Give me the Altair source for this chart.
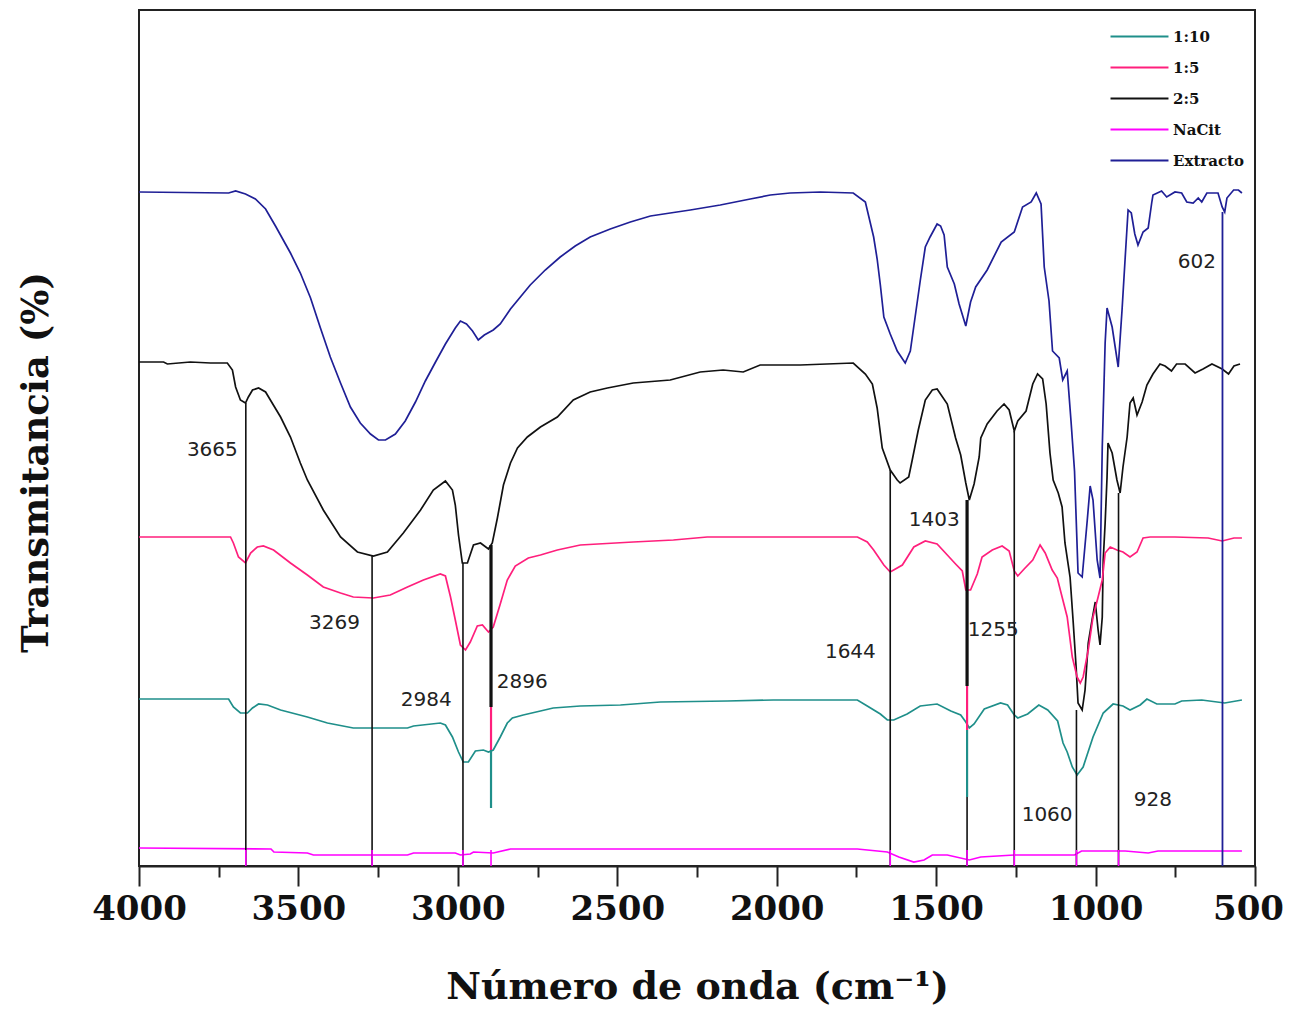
import altair as alt
import pandas as pd

# ---------------- data ----------------
series_names = ["1:10", "1:5", "2:5", "NaCit", "Extracto"]
series_colors = ["#1f8f8a", "#ff1f7c", "#111111", "#ff00ff", "#1f1f96"]

ext_wn = [4000, 3719, 3697, 3666, 3635, 3603, 3572, 3525, 3494, 3462, 3431, 3400, 3368, 3337, 3306, 3274,
          3249, 3227, 3196, 3165, 3133, 3102, 3070, 3039, 3008, 2992, 2973, 2954, 2936, 2917, 2889, 2867,
          2835, 2804, 2773, 2726, 2679, 2632, 2585, 2522, 2459, 2396, 2334, 2271, 2177, 2083, 2020, 1958,
          1863, 1760, 1722, 1696, 1685, 1675, 1664, 1644, 1622, 1597, 1581, 1569, 1550, 1534, 1519, 1497,
          1486, 1475, 1465, 1443, 1428, 1407, 1392, 1376, 1340, 1296, 1255, 1229, 1202, 1186, 1171, 1161,
          1146, 1135, 1114, 1103, 1089, 1077, 1066, 1055, 1042, 1026, 1017, 1008, 995, 986, 979, 970,
          964, 948, 929, 917, 907, 898, 888, 877, 867, 851, 835, 824, 820, 793, 777, 751,
          730, 714, 694, 678, 667, 651, 616, 603, 595, 588, 567, 552, 541]
ext_t = [674, 673, 675, 672, 667, 657, 640, 613, 593, 568, 538, 509, 483, 459, 443, 432,
         426, 426, 432, 445, 464, 485, 504, 522, 538, 545, 542, 535, 526, 531, 536, 542,
         557, 569, 581, 596, 609, 620, 629, 637, 644, 650, 653, 656, 661, 667, 671, 673,
         674, 673, 664, 629, 607, 581, 549, 532, 515, 503, 515, 542, 585, 619, 629, 642,
         640, 631, 599, 582, 562, 540, 564, 579, 596, 624, 634, 659, 664, 673, 662, 599,
         565, 515, 508, 486, 495, 445, 395, 293, 289, 346, 380, 366, 306, 288, 419, 523,
         558, 539, 499, 556, 609, 656, 653, 632, 621, 634, 638, 663, 671, 675, 669, 674,
         673, 664, 663, 668, 664, 673, 673, 659, 654, 668, 676, 676, 673]

blk_wn = [4000, 3923, 3911, 3839, 3776, 3723, 3707, 3697, 3682, 3666, 3657, 3644, 3625, 3603, 3588, 3556,
          3525, 3494, 3472, 3422, 3368, 3315, 3265, 3221, 3171, 3117, 3077, 3039, 3017, 3008, 2998, 2986,
          2970, 2951, 2929, 2904, 2892, 2876, 2857, 2835, 2813, 2782, 2741, 2688, 2638, 2585, 2531, 2450,
          2334, 2240, 2168, 2105, 2052, 1926, 1760, 1722, 1700, 1685, 1669, 1644, 1622, 1613, 1586, 1575,
          1556, 1534, 1512, 1497, 1465, 1439, 1423, 1407, 1396, 1381, 1365, 1360, 1340, 1309, 1287, 1271,
          1255, 1244, 1218, 1197, 1182, 1166, 1155, 1143, 1133, 1117, 1105, 1096, 1080, 1070, 1061, 1055,
          1042, 1033, 1023, 1011, 1001, 992, 986, 979, 976, 970, 964, 961, 948, 933, 923, 914,
          901, 892, 882, 870, 854, 839, 820, 798, 782, 762, 746, 719, 688, 663, 635, 603,
          583, 566, 547]
blk_t = [504, 504, 502, 504, 503, 503, 496, 479, 466, 463, 469, 476, 478, 474, 466, 449,
         429, 403, 386, 356, 329, 314, 310, 314, 333, 356, 376, 385, 376, 361, 331, 303,
         303, 321, 323, 317, 323, 348, 381, 403, 418, 429, 439, 449, 466, 474, 478, 483,
         486, 494, 496, 494, 501, 501, 503, 492, 482, 458, 418, 396, 386, 383, 389, 406,
         436, 466, 476, 477, 462, 428, 411, 383, 366, 382, 409, 428, 442, 455, 462, 456,
         435, 445, 455, 482, 492, 487, 462, 413, 386, 373, 359, 323, 289, 243, 199, 163,
         156, 176, 223, 246, 264, 236, 221, 249, 306, 343, 389, 423, 413, 386, 373, 399,
         429, 463, 468, 451, 464, 481, 492, 502, 500, 495, 502, 502, 493, 497, 502, 497,
         492, 500, 502]

pnk_wn = [4000, 3713, 3704, 3688, 3666, 3650, 3629, 3610, 3578, 3525, 3472, 3422, 3368, 3328, 3265, 3212,
          3158, 3108, 3055, 3039, 3023, 3008, 2992, 2976, 2961, 2939, 2923, 2904, 2889, 2867, 2845, 2820,
          2779, 2741, 2688, 2616, 2450, 2324, 2218, 2011, 1747, 1716, 1696, 1664, 1644, 1606, 1570, 1534,
          1497, 1465, 1439, 1418, 1407, 1392, 1371, 1356, 1324, 1293, 1271, 1255, 1244, 1224, 1197, 1174,
          1158, 1136, 1120, 1105, 1089, 1073, 1058, 1048, 1039, 1023, 1008, 992, 979, 970, 954, 933,
          914, 892, 870, 851, 829, 751, 647, 603, 566, 541]
pnk_t = [329, 329, 323, 309, 303, 313, 319, 320, 316, 303, 291, 279, 273, 269, 268, 271,
         279, 286, 292, 290, 269, 246, 221, 216, 224, 240, 241, 234, 239, 262, 286, 300,
         308, 311, 316, 321, 324, 326, 329, 329, 329, 324, 316, 301, 294, 301, 319, 325,
         322, 311, 302, 295, 276, 276, 292, 309, 316, 320, 315, 295, 290, 297, 306, 321,
         313, 296, 288, 269, 249, 209, 189, 183, 189, 216, 249, 269, 286, 313, 319, 316,
         314, 309, 314, 328, 329, 329, 328, 325, 328, 328]

tea_wn = [4000, 3719, 3704, 3682, 3660, 3644, 3625, 3597, 3556, 3472, 3409, 3328, 3265, 3158, 3139, 3055,
          3039, 3017, 2998, 2983, 2967, 2945, 2920, 2904, 2889, 2867, 2845, 2829, 2795, 2741, 2701, 2616,
          2490, 2365, 2155, 2011, 1747, 1716, 1675, 1653, 1633, 1591, 1550, 1497, 1454, 1423, 1407, 1396,
          1381, 1349, 1298, 1276, 1255, 1244, 1213, 1178, 1150, 1119, 1102, 1089, 1073, 1058, 1039, 1008,
          976, 945, 914, 892, 860, 839, 808, 751, 730, 667, 595, 541]
tea_t = [167, 167, 159, 153, 153, 158, 162, 161, 156, 149, 143, 138, 138, 138, 140, 143,
         141, 129, 114, 104, 104, 115, 116, 114, 116, 129, 143, 148, 151, 155, 158, 160,
         161, 164, 165, 166, 166, 160, 152, 146, 146, 152, 160, 162, 155, 151, 144, 138,
         142, 157, 163, 161, 151, 148, 152, 161, 156, 145, 123, 114, 99, 91, 99, 129,
         153, 162, 160, 156, 161, 167, 162, 162, 165, 166, 163, 166]

nac_wn = [4000, 3586, 3577, 3472, 3453, 3158, 3139, 3008, 2992, 2961, 2951, 2889, 2835, 1747, 1653, 1617,
          1570, 1538, 1512, 1465, 1396, 1360, 1255, 1066, 1044, 907, 835, 804, 541]
nac_t = [18, 17, 14, 13, 11, 11, 13, 13, 11, 12, 14, 13, 17, 17, 14, 9,
         4, 6, 11, 11, 6, 9, 11, 11, 15, 15, 13, 15, 15]

# drop lines marking the assigned bands
drop_wn = [3665, 3269, 2984, 2896, 2896, 2896, 1644, 1403, 1403, 1403, 1403, 1255, 1060, 928, 602,
           3665, 3269, 2984, 2896, 1644, 1403, 1255, 1060, 928]
drop_top = [463, 310, 303, 321, 159, 116, 396, 366, 366, 180, 136, 435, 156, 373, 654,
            16, 16, 16, 16, 16, 16, 16, 16, 16]
drop_bot = [0, 0, 0, 159, 116, 58, 0, 0, 180, 136, 69, 0, 0, 0, 0,
            0, 0, 0, 0, 0, 0, 0, 0, 0]
drop_series = ["2:5", "2:5", "2:5", "2:5", "1:5", "1:10", "2:5", "2:5", "2:5", "1:5", "1:10", "2:5", "2:5", "2:5", "Extracto",
               "NaCit", "NaCit", "NaCit", "NaCit", "NaCit", "NaCit", "NaCit", "NaCit", "NaCit"]
drop_w = [1.6, 1.6, 1.6, 3.2, 2.2, 2.2, 1.6, 1.6, 3.2, 2.2, 2.2, 1.6, 1.6, 1.6, 1.8,
          1.6, 1.6, 1.6, 1.6, 1.6, 1.6, 1.6, 1.6, 1.6]

# peak labels
lab_text = ["3665", "3269", "2984", "2896", "1644", "1403", "1255", "1060", "928", "602"]
lab_wn = [3770, 3387, 3099, 2798, 1769, 1506, 1321, 1152, 820, 682]
lab_t = [416, 243, 166, 184, 214, 346, 236, 51, 66, 604]

# ---------------- tables ----------------
frames = []
for name, wn, t in [("Extracto", ext_wn, ext_t), ("2:5", blk_wn, blk_t), ("1:5", pnk_wn, pnk_t),
                    ("1:10", tea_wn, tea_t), ("NaCit", nac_wn, nac_t)]:
    frames.append(pd.DataFrame({"wn": wn, "t": t, "serie": name}))
spec = pd.concat(frames, ignore_index=True)

drops = pd.DataFrame({"wn": drop_wn, "t": drop_top, "t2": drop_bot, "serie": drop_series, "w": drop_w})
labels = pd.DataFrame({"wn": lab_wn, "t": lab_t, "txt": lab_text})

color_scale = alt.Scale(domain=series_names, range=series_colors)

x_axis = alt.Axis(
    title="Número de onda (cm⁻¹)",
    values=list(range(500, 4001, 250)),
    labelExpr="datum.value % 500 === 0 ? format(datum.value, 'd') : ''",
    tickSize={"condition": {"test": "datum.value % 500 === 0", "value": 20}, "value": 11},
    labelOffset={"condition": {"test": "datum.value === 500", "value": -7}, "value": 0},
    tickWidth=2, tickColor="#222", domainColor="#222", domainWidth=2,
    labelFont="DejaVu Serif", labelFontWeight="bold", labelFontSize=34, labelColor="#111",
    labelPadding=6, labelFlush=False, labelOverlap=False,
    titleFont="DejaVu Serif", titleFontWeight="bold", titleFontSize=38, titleColor="#111",
    titleX=558, titleY=132, titleBaseline="alphabetic", titleAlign="center",
    grid=False,
)
y_axis = alt.Axis(
    title="Transmitancia (%)", labels=False, ticks=False, domain=False, grid=False,
    titleFont="DejaVu Serif", titleFontWeight="bold", titleFontSize=37, titleColor="#111",
    titleX=-84, titleY=452, titleBaseline="bottom", titleAlign="center",
)

X = alt.X("wn:Q", scale=alt.Scale(domain=[4000, 500], nice=False, zero=False), axis=x_axis)
Y = alt.Y("t:Q", scale=alt.Scale(domain=[0, 856], nice=False, zero=False), axis=y_axis)

lines = alt.Chart(spec).mark_line(strokeWidth=1.7).encode(
    x=X, y=Y,
    color=alt.Color("serie:N", scale=color_scale, sort=series_names,
                    legend=alt.Legend(title=None, orient="none", legendX=992, legendY=18,
                                      symbolType="M-4,0H4", symbolSize=210, symbolStrokeWidth=2,
                                      labelFont="DejaVu Serif", labelFontWeight="bold",
                                      labelFontSize=15, labelColor="#111", rowPadding=14,
                                      labelOffset=25)),
)

rules = alt.Chart(drops).mark_rule().encode(
    x="wn:Q", y="t:Q", y2="t2:Q",
    color=alt.Color("serie:N", scale=color_scale, legend=None),
    strokeWidth=alt.StrokeWidth("w:Q", scale=None),
)

texts = alt.Chart(labels).mark_text(font="DejaVu Sans", fontSize=20, color="#222",
                                    align="center", baseline="middle").encode(
    x="wn:Q", y="t:Q", text="txt:N")

chart = alt.layer(lines, rules, texts).properties(
    width=1116, height=856,
    padding={"left": 131, "top": 2, "right": 29, "bottom": 140},
    autosize=alt.AutoSizeParams(type="none"),
).configure_view(stroke="#222", strokeWidth=2).configure_axis(grid=False)

chart.save("out.html", embed_options={"renderer": "svg", "actions": False})
